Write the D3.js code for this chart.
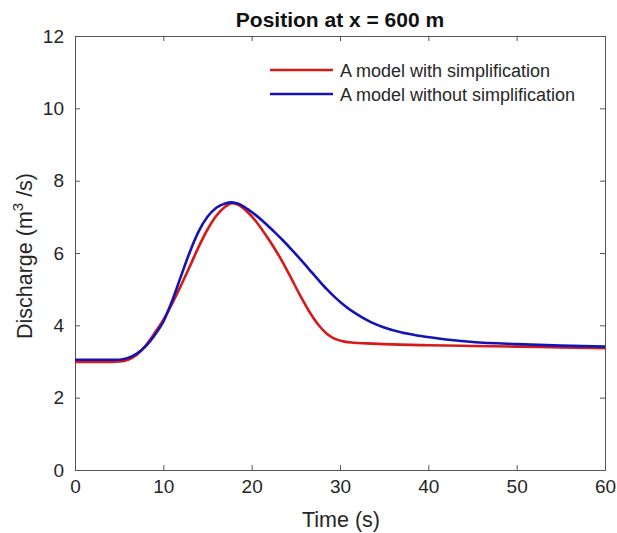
<!DOCTYPE html>
<html><head><meta charset="utf-8">
<script src="https://cdn.jsdelivr.net/npm/d3@7"></script>
<style>body{margin:0;background:#fff;font-family:"Liberation Sans",Arial,sans-serif}</style>
</head><body>
<svg id="c" width="617" height="533"></svg>
<script>
const redT = [0,4,5,6,7,8,9,10,11,12,13,14,15,16,17,17.8,18.5,19.5,20.5,21.5,22.5,23.5,24.5,25.5,26.5,27.5,28.5,29.5,30.5,31.5,33,35,40,45,50,55,60];
const redV = [2.99,2.99,3.0,3.05,3.19,3.44,3.78,4.15,4.6,5.1,5.63,6.17,6.65,7.03,7.28,7.38,7.33,7.14,6.87,6.53,6.16,5.75,5.29,4.82,4.39,4.03,3.77,3.62,3.55,3.52,3.5,3.48,3.45,3.43,3.41,3.39,3.37];
const blueT = [0,5,6,7,8,9,10,11,12,13,14,15,16,17,17.7,18.5,19.5,20.5,21.5,22.5,23.5,24.5,25.5,26.5,27.5,28.5,29.5,30.5,31.5,32.5,33.5,35,37,39,42,45,50,55,60];
const blueV = [3.05,3.05,3.1,3.22,3.42,3.72,4.1,4.68,5.36,6.03,6.6,7.0,7.25,7.37,7.4,7.36,7.22,7.04,6.83,6.6,6.36,6.1,5.83,5.55,5.27,5.0,4.76,4.55,4.37,4.22,4.09,3.94,3.8,3.71,3.61,3.54,3.48,3.44,3.41];
const xTicks = [0,10,20,30,40,50,60];
const yTicks = [0,2,4,6,8,10,12];
const seriesNames = ["A model with simplification","A model without simplification"];
const seriesColors = ["#d61a1a","#1414b4"];

const svg = d3.select("#c");
const L=75,R=605,T=36,B=470;
const x = d3.scaleLinear().domain([0,60]).range([L,R]);
const y = d3.scaleLinear().domain([0,12]).range([B,T]);
const txt="#262626", ax="#555";
const ff="Liberation Sans, Arial, sans-serif";

svg.append("rect").attr("x",L).attr("y",T).attr("width",R-L).attr("height",B-T).attr("fill","#fff");

const gx = svg.append("g").attr("transform",`translate(0,${B})`)
  .call(d3.axisBottom(x).tickValues(xTicks).tickSize(-5).tickPadding(10));
const gxt = svg.append("g").attr("transform",`translate(0,${T})`)
  .call(d3.axisTop(x).tickValues(xTicks).tickSize(-5).tickFormat(""));
const gy = svg.append("g").attr("transform",`translate(${L},0)`)
  .call(d3.axisLeft(y).tickValues(yTicks).tickSize(-5).tickPadding(11));
const gyr = svg.append("g").attr("transform",`translate(${R},0)`)
  .call(d3.axisRight(y).tickValues(yTicks).tickSize(-5).tickFormat(""));
[gx,gxt,gy,gyr].forEach(g=>{
  g.select(".domain").attr("stroke",ax).attr("stroke-width",1);
  g.selectAll(".tick line").attr("stroke",ax);
  g.selectAll(".tick text").attr("fill",txt).attr("font-size",19).attr("font-family",ff);
});

const line = d3.line().x(d=>x(d[0])).y(d=>y(d[1])).curve(d3.curveMonotoneX);
const data = [d3.zip(redT,redV), d3.zip(blueT,blueV)];
data.forEach((d,i)=>{
  svg.append("path").datum(d).attr("d",line).attr("fill","none")
    .attr("stroke",seriesColors[i]).attr("stroke-width",2.6);
});

// legend
seriesNames.forEach((n,i)=>{
  const yy = 70 + i*24;
  svg.append("line").attr("x1",270).attr("x2",333).attr("y1",yy).attr("y2",yy)
    .attr("stroke",seriesColors[i]).attr("stroke-width",2.6);
  svg.append("text").attr("x",340).attr("y",yy+6.5).attr("fill",txt)
    .attr("font-size",18).attr("font-family",ff).text(n);
});

svg.append("text").attr("x",340).attr("y",27).attr("text-anchor","middle").attr("font-family",ff)
  .attr("font-size",21).attr("font-weight","bold").attr("fill","#111").text("Position at x = 600 m");
svg.append("text").attr("x",341).attr("y",527).attr("text-anchor","middle").attr("font-family",ff)
  .attr("font-size",21.5).attr("fill",txt).text("Time (s)");
const yl = svg.append("text").attr("transform","translate(32,256) rotate(-90)").attr("font-family",ff)
  .attr("text-anchor","middle").attr("font-size",21.5).attr("fill",txt);
yl.append("tspan").text("Discharge (m");
yl.append("tspan").attr("dy",-9).attr("font-size",15).text("3");
yl.append("tspan").attr("dy",9).text(" /s)");
</script>
</body></html>
